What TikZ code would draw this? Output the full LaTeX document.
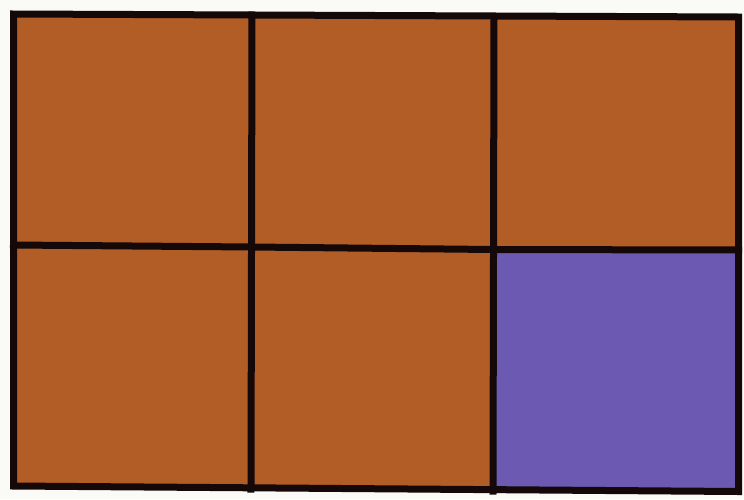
\documentclass[tikz,border=0pt]{standalone}
\definecolor{cellbrown}{RGB}{178,92,38}
\definecolor{cellpurple}{RGB}{108,90,178}
\definecolor{paper}{RGB}{250,250,246}
\definecolor{gridline}{RGB}{20,8,8}
\tikzset{
  cell/.style={fill=cellbrown, draw=none},
  cellp/.style={fill=cellpurple, draw=none},
  gridl/.style={draw=gridline, line width=7pt, line cap=rect}
}
\begin{document}
\begin{tikzpicture}[x=1pt,y=-1pt]
\fill[paper] (0,0) rectangle (744,499);
\useasboundingbox (0,0) rectangle (744,499);
% cells
\fill[cell] (13.5,15) rectangle (252,248);
\fill[cell] (252,15) rectangle (493,248);
\fill[cell] (493,15) rectangle (738.5,249);
\fill[cell] (13.5,248) rectangle (252,489);
\fill[cell] (252,248) rectangle (493,490);
\fill[cellp] (493,249) rectangle (738.5,491);
% grid lines
\draw[gridl] (13.5,14) -- (738.5,17) -- (738.5,491.5) -- (13.5,486) -- cycle;
\draw[gridl] (252,15) -- (251,489);
\draw[gridl] (494,17) -- (493,491);
\draw[gridl] (13.5,245) -- (252,247) -- (493,249.5) -- (738.5,250);
\end{tikzpicture}
\end{document}
